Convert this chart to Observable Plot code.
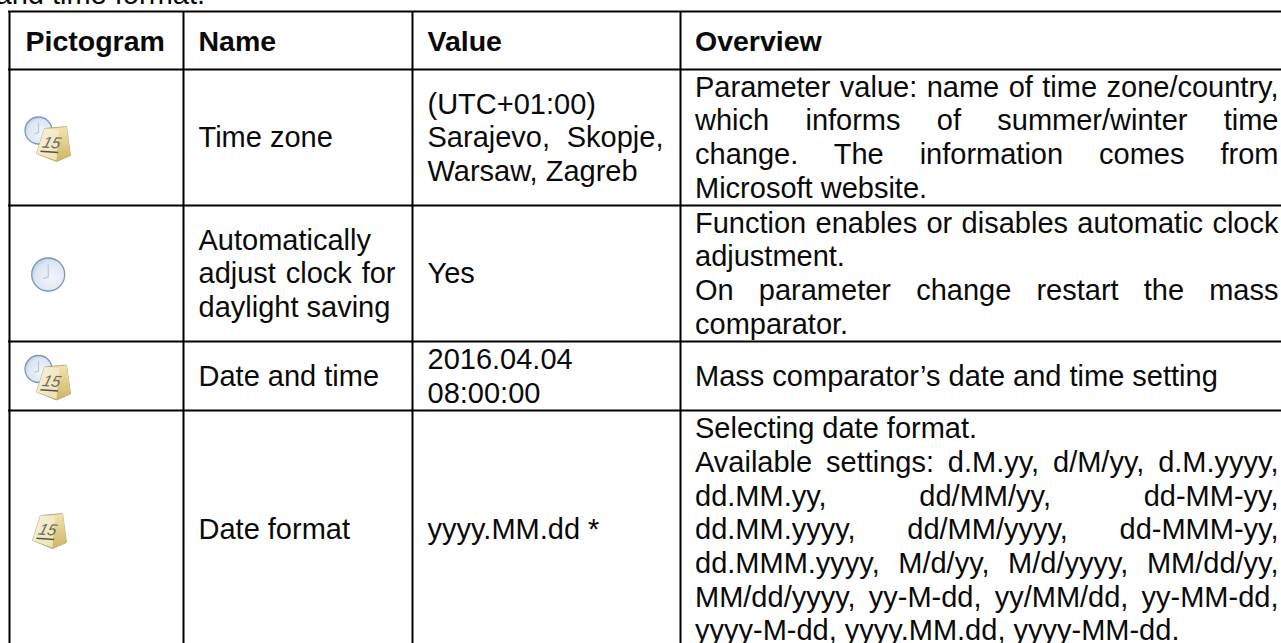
<!DOCTYPE html>
<html>
<head>
<meta charset="utf-8">
<style>
html,body{margin:0;padding:0;background:#fff;overflow:hidden}
svg{display:block}
</style>
<script src="https://cdn.jsdelivr.net/npm/d3@7"></script>
<script src="https://cdn.jsdelivr.net/npm/@observablehq/plot@0.6"></script>
</head>
<body>
<div id="chart"></div>
<script>
// ---- table content -------------------------------------------------------
const preamble = "and time format.";
const headers = ["Pictogram", "Name", "Value", "Overview"];
const pictograms = ["clockCalendar", "clock", "clockCalendar", "calendar"];
const names = [
  ["Time zone"],
  ["Automatically", "adjust clock for", "daylight saving"],
  ["Date and time"],
  ["Date format"]
];
const values = [
  ["(UTC+01:00)", "Sarajevo, Skopje,", "Warsaw, Zagreb"],
  ["Yes"],
  ["2016.04.04", "08:00:00"],
  ["yyyy.MM.dd *"]
];
const overviews = [
  ["Parameter value: name of time zone/country,", "which informs of summer/winter time", "change. The information comes from", "Microsoft website."],
  ["Function enables or disables automatic clock", "adjustment.", "On parameter change restart the mass", "comparator."],
  ["Mass comparator\u2019s date and time setting"],
  ["Selecting date format.", "Available settings: d.M.yy, d/M/yy, d.M.yyyy,", "dd.MM.yy, dd/MM/yy, dd-MM-yy,", "dd.MM.yyyy, dd/MM/yyyy, dd-MMM-yy,", "dd.MMM.yyyy, M/d/yy, M/d/yyyy, MM/dd/yy,", "MM/dd/yyyy, yy-M-dd, yy/MM/dd, yy-MM-dd,", "yyyy-M-dd, yyyy.MM.dd, yyyy-MM-dd."]
];
// lines set flush to both edges of their cell, as in the source document
const justifiedLines = new Set([
  "adjust clock for", "Sarajevo, Skopje,",
  "Parameter value: name of time zone/country,", "which informs of summer/winter time", "change. The information comes from",
  "Function enables or disables automatic clock", "On parameter change restart the mass",
  "Available settings: d.M.yy, d/M/yy, d.M.yyyy,", "dd.MM.yy, dd/MM/yy, dd-MM-yy,", "dd.MM.yyyy, dd/MM/yyyy, dd-MMM-yy,",
  "dd.MMM.yyyy, M/d/yy, M/d/yyyy, MM/dd/yy,", "MM/dd/yyyy, yy-M-dd, yy/MM/dd, yy-MM-dd,"
]);

// ---- table geometry ------------------------------------------------------
const W = 1281, H = 643;
const columnEdges = [9, 183, 412, 680];
const rowEdges = [11, 69, 205, 341, 410, 648];
const textLeft = [25, 198, 427, 694.5];
const textRight = [null, 395, 663, 1278];
const fontSize = 29, lineStep = 33.7, baselineShift = 9.8;
const iconSpots = {clockCalendar: {x: 46, size: 52}, clock: {x: 47.7, size: 42}, calendar: {x: 49, size: 42}};

// ---- build the lines -----------------------------------------------------
const centre = r => (rowEdges[r + 1] + rowEdges[r + 2]) / 2;
const lines = [];
[names, values, overviews].forEach((column, c) => column.forEach((cell, r) => cell.forEach((text, i) => {
  lines.push({text, x: textLeft[c + 1], right: textRight[c + 1],
    y: centre(r) + baselineShift + (i - (cell.length - 1) / 2) * lineStep,
    justified: justifiedLines.has(text)});
})));
const headerCells = headers.map((text, c) => ({text, x: textLeft[c], y: 50}));
const icons = pictograms.map((kind, r) => ({kind, x: iconSpots[kind].x, y: kind === "clockCalendar" ? centre(r) + 1 : kind === "clock" ? 274 : 530}));

// ---- pictograms ----------------------------------------------------------
const defs = `<defs>
<radialGradient id="d" cx=".6" cy=".6" r=".7"><stop offset="0" stop-color="#f2f6fb"/><stop offset=".7" stop-color="#dbe6f3"/><stop offset="1" stop-color="#a9c3e2"/></radialGradient>
<linearGradient id="f" x1="0" y1="0" x2="1" y2="1"><stop offset="0" stop-color="#f6f1da"/><stop offset="1" stop-color="#efe2b0"/></linearGradient>
<linearGradient id="s" x1="0" y1="0" x2="0" y2="1"><stop offset="0" stop-color="#f1e4ae"/><stop offset="1" stop-color="#cfb568"/></linearGradient>
</defs>`;
const clockShape = (cx, cy, r) => `<circle cx="${cx}" cy="${cy}" r="${r}" fill="url(#d)" stroke="#7d98b8" stroke-width="1.3"/>
<path d="M${cx} ${cy - r * .6}V${cy + r * .15}L${cx - r * .3} ${cy + r * .25}" fill="none" stroke="#b4c7df" stroke-width="1.2"/>`;
const calendarShape = (o, k) => {
  const p = a => a.map(([x, y]) => `${o[0] + x * k},${o[1] + y * k}`).join(" ");
  return `<polygon points="${p([[8, 0], [30, -2], [34, 27], [20, 33], [0, 25]])}" fill="url(#s)" stroke="#a89a70" stroke-width=".8"/>
<polygon points="${p([[8, 0], [23, 1], [20, 32], [0, 25]])}" fill="url(#f)"/>
<polygon points="${p([[23, 1], [30, -2], [34, 27], [20, 33]])}" fill="url(#s)"/>
<g transform="translate(${o[0] + 5 * k},${o[1] + 19 * k}) skewX(-12) rotate(4) scale(${k})"><text font-family="Liberation Sans" font-style="italic" font-size="16" fill="#6b6a62">15</text><rect y="3" width="18" height="1.6" fill="#55534c"/></g>`;
};
const iconSvg = {
  clockCalendar: `${clockShape(18, 18, 13.5)}${calendarShape([16, 16], 1)}`,
  clock: `${clockShape(21, 21, 16.5)}`,
  calendar: `${calendarShape([4, 6], 1)}`
};
const iconSrc = kind => {
  const s = iconSpots[kind].size;
  return "data:image/svg+xml," + encodeURIComponent(`<svg xmlns="http://www.w3.org/2000/svg" width="${s}" height="${s}" viewBox="0 0 ${s} ${s}">${defs}${iconSvg[kind]}</svg>`);
};

// ---- chart ---------------------------------------------------------------
const textDefaults = {x: "x", y: "y", text: "text", textAnchor: "start", lineAnchor: "bottom", fontSize, fill: "#0a0a0a"};
const chart = Plot.plot({
  width: W, height: H,
  margin: 0,
  style: {fontFamily: "'Liberation Sans', Arial, sans-serif", background: "#fff"},
  x: {domain: [0, W], range: [0, W], axis: null},
  y: {domain: [0, H], range: [0, H], axis: null},
  marks: [
    Plot.ruleY(rowEdges.slice(0, 5), {x1: columnEdges[0] - 1, x2: W, stroke: "#000", strokeWidth: 2}),
    Plot.ruleX(columnEdges, {y1: rowEdges[0], y2: H, stroke: "#000", strokeWidth: 2}),
    Plot.text([{text: preamble, x: -5, y: 3}], textDefaults),
    Plot.text(headerCells, {...textDefaults, fontWeight: "bold", fontSize: 28.5}),
    Plot.text(lines, textDefaults),
    ...pictograms.map((kind, r) => Plot.image([icons[r]], {x: "x", y: "y", src: iconSrc(kind), width: iconSpots[kind].size, height: iconSpots[kind].size}))
  ]
});
document.getElementById("chart").append(chart);

// Word spacing that carries each flush line to the right edge of its cell.
const flushByText = new Map(lines.filter(d => d.justified).map(d => [d.text, d]));
chart.querySelectorAll("text").forEach(node => {
  const d = flushByText.get(node.textContent);
  if (!d) return;
  const gaps = d.text.trim().split(/\s+/).length - 1;
  const spare = d.right - d.x - node.getComputedTextLength();
  node.style.wordSpacing = `${spare / gaps}px`;
});
</script>
</body>
</html>
